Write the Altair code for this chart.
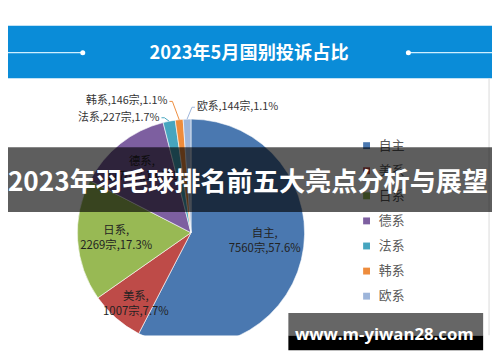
import altair as alt
import pandas as pd

# ---------------- data ----------------
categories = ["自主", "美系", "日系", "德系", "法系", "韩系", "欧系"]
counts = [7560, 1007, 2269, 1770, 227, 146, 144]
shares = ["57.6%", "7.7%", "17.3%", "13.5%", "1.7%", "1.1%", "1.1%"]
colors = ["#4A78B0", "#BE4B48", "#98B954", "#7D5FA0", "#46A5BF", "#EE8C3C", "#9DB5DA"]
title_text = "2023年5月国别投诉占比"
banner_text = "2023年羽毛球排名前五大亮点分析与展望"
watermark_text = "www.m-yiwan28.com"

# ---------------- layout / style ----------------
W, H = 492, 354
CX, CY, R = 186, 225.5, 115.5
FONT = "Noto Sans CJK SC"

df = pd.DataFrame({"cat": categories, "value": counts, "share": shares,
                   "idx": list(range(len(categories)))})
df["inside"] = df["cat"] + ",\n" + df["value"].astype(str) + "宗," + df["share"]
df["outside"] = df["cat"] + "," + df["value"].astype(str) + "宗," + df["share"]

one = pd.DataFrame({"k": [0]})


def deco():
    return alt.Chart(one)


color_enc = alt.Color("cat:N", scale=alt.Scale(domain=categories, range=colors), legend=None)

layers = []
# header band
layers.append(deco().mark_rect(color="#0A8CD8").encode(
    x=alt.value(0), x2=alt.value(W), y=alt.value(15), y2=alt.value(68.5)))
layers.append(deco().mark_text(text=title_text, font=FONT, fontSize=18.5, fontWeight="bold",
                               color="white", align="center", baseline="middle").encode(
    x=alt.value(245), y=alt.value(42.5)))
for xa, xb, xd in [(0, 76, 76), (407, W, 407)]:
    layers.append(deco().mark_rule(color="#CFEFFF", strokeWidth=1.2).encode(
        x=alt.value(xa), x2=alt.value(xb), y=alt.value(42.5)))
    layers.append(deco().mark_circle(size=26, color="white", opacity=1).encode(
        x=alt.value(xd), y=alt.value(42.5)))
# frame line on the right
layers.append(deco().mark_rule(color="#DADADA", strokeWidth=1).encode(
    x=alt.value(489), y=alt.value(68.5), y2=alt.value(330)))

# pie
layers.append(alt.Chart(df).mark_arc(outerRadius=R, stroke="white", strokeWidth=0.6).encode(
    theta=alt.Theta("value:Q", stack=True),
    color=color_enc,
    order=alt.Order("idx:Q", sort="ascending"),
    x=alt.value(CX), y=alt.value(CY)))

lab = (alt.Chart(df)
       .transform_joinaggregate(total="sum(value)")
       .transform_window(cum="sum(value)", sort=[alt.SortField("idx", order="ascending")],
                         frame=[None, 0])
       .transform_calculate(a="2*PI*(datum.cum - datum.value/2)/datum.total"))

inside_style = {"自主": (85, -7.6, -18.5), "美系": (85, 0, 1.6),
                "日系": (85, 8.8, -7), "德系": (85, 3, -5.5)}
for c, (r, dx, dy) in inside_style.items():
    layers.append(lab.transform_filter(alt.datum.cat == c).transform_calculate(
        lx=f"{CX} + {r}*sin(datum.a) + {dx}", ly=f"{CY} - {r}*cos(datum.a) + {dy}"
    ).mark_text(font=FONT, fontSize=11.5, color="#222222", align="center", baseline="middle",
                lineBreak="\n", lineHeight=15).encode(
        x=alt.X("lx:Q", scale=None, axis=None), y=alt.Y("ly:Q", scale=None, axis=None),
        text="inside:N"))

outside_style = {"法系": (-9.8, -3.5, "right"), "韩系": (-11.9, -18.6, "right"),
                 "欧系": (10, -12.1, "left")}
for c, (dx, dy, al) in outside_style.items():
    s = 1 if al == "right" else -1
    col = colors[categories.index(c)]
    b = lab.transform_filter(alt.datum.cat == c).transform_calculate(
        ex=f"{CX} + {R}*sin(datum.a)", ey=f"{CY} - {R}*cos(datum.a)"
    ).transform_calculate(
        lx=f"datum.ex + {dx}", ly=f"datum.ey + {dy}",
        k1=f"datum.ex + {dx} + {2 * s}", k2=f"datum.ex + {dx} + {5 * s}")
    layers.append(b.mark_text(font=FONT, fontSize=11, color="#333333", align=al,
                              baseline="middle").encode(
        x=alt.X("lx:Q", scale=None, axis=None), y=alt.Y("ly:Q", scale=None, axis=None),
        text="outside:N"))
    layers.append(b.mark_rule(color=col, strokeWidth=1).encode(
        x=alt.X("k1:Q", scale=None, axis=None), x2="k2:Q",
        y=alt.Y("ly:Q", scale=None, axis=None)))
    layers.append(b.mark_rule(color=col, strokeWidth=1).encode(
        x=alt.X("k2:Q", scale=None, axis=None), x2="ex:Q",
        y=alt.Y("ly:Q", scale=None, axis=None), y2="ey:Q"))

# legend (drawn as marks so it sits under the banner)
leg = alt.Chart(df).transform_calculate(gy="137 + 25.5*datum.idx")
layers.append(leg.mark_square(size=49, opacity=1).encode(
    x=alt.value(364.5), y=alt.Y("gy:Q", scale=None, axis=None), color=color_enc))
layers.append(leg.mark_text(font=FONT, fontSize=13, color="#595959", align="left",
                            baseline="middle").encode(
    x=alt.value(377), y=alt.Y("gy:Q", scale=None, axis=None), text="cat:N"))

# crop bottom of picture
layers.append(deco().mark_rect(color="white").encode(
    x=alt.value(0), x2=alt.value(W), y=alt.value(330), y2=alt.value(H)))

# banner
layers.append(deco().mark_rect(color="black", opacity=0.63).encode(
    x=alt.value(0), x2=alt.value(W), y=alt.value(138.5), y2=alt.value(204.5)))
layers.append(deco().mark_text(text=banner_text, font=FONT, fontSize=26.6, fontWeight="bold",
                               color="white", align="center", baseline="middle").encode(
    x=alt.value(244), y=alt.value(175)))

# watermark
layers.append(deco().mark_rect(color="#666666").encode(
    x=alt.value(285), x2=alt.value(483), y=alt.value(307), y2=alt.value(330)))
layers.append(deco().mark_rect(color="black").encode(
    x=alt.value(285), x2=alt.value(483), y=alt.value(330), y2=alt.value(345)))
layers.append(deco().mark_text(text=watermark_text, font="Open Sans", fontSize=17,
                               fontWeight="bold", color="white", align="center",
                               baseline="middle").encode(
    x=alt.value(382.5), y=alt.value(330)))

chart = alt.layer(*layers).properties(
    width=W, height=H, autosize=alt.AutoSizeParams(type="none"), padding=0,
    background="white").configure_view(stroke=None)

chart.save("out.html", embed_options={"renderer": "svg", "actions": False})
